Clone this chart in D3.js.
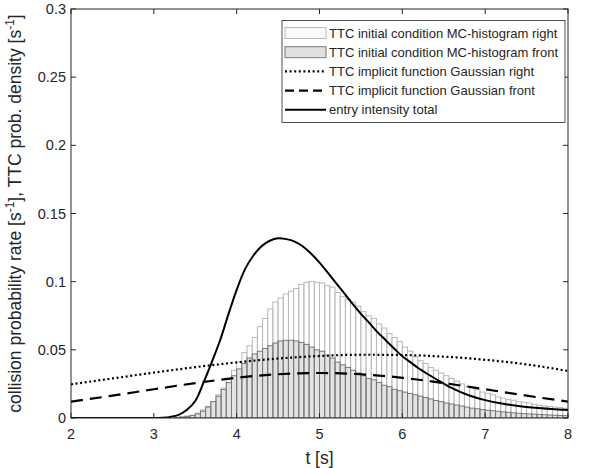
<!DOCTYPE html>
<html>
<head>
<meta charset="utf-8">
<script src="https://cdn.jsdelivr.net/npm/d3@7"></script>
<style>
  body { margin: 0; background: #fff; }
  text { font-family: "Liberation Sans", Arial, sans-serif; fill: #262626; }
</style>
</head>
<body>
<svg id="chart" width="602" height="468"></svg>
<script>
// histogram bins (s)
const binStart = 3.25
const binWidth = 0.0625
// TTC initial condition MC-histogram right
const histRight = [
  0.0005, 0.001, 0.0015, 0.002, 0.0035, 0.006, 0.0085, 0.012, 0.017, 0.022,
  0.028, 0.035, 0.041, 0.048, 0.053, 0.059, 0.067, 0.073, 0.080, 0.085,
  0.088, 0.091, 0.093, 0.095, 0.098, 0.0995, 0.100, 0.0995, 0.099, 0.097,
  0.096, 0.092, 0.089, 0.087, 0.085, 0.082, 0.078, 0.075, 0.073, 0.069,
  0.066, 0.062, 0.059, 0.056, 0.052, 0.049, 0.045, 0.042, 0.040, 0.037,
  0.035, 0.033, 0.031, 0.029, 0.027, 0.025, 0.023, 0.022, 0.021, 0.019,
  0.018, 0.017, 0.0155, 0.0145, 0.0135, 0.013, 0.012, 0.0115, 0.011, 0.010,
  0.0093, 0.0088, 0.0084, 0.008, 0.0076, 0.0071, 0.0066, 0.0063, 0.006, 0.0056
]
// TTC initial condition MC-histogram front
const histFront = [
  0.0003, 0.0006, 0.001, 0.0018, 0.003, 0.005, 0.008, 0.012, 0.016, 0.021,
  0.026, 0.031, 0.036, 0.040, 0.044, 0.047, 0.049, 0.051, 0.053, 0.055,
  0.0565, 0.057, 0.057, 0.0565, 0.0555, 0.054, 0.052, 0.050, 0.049, 0.046,
  0.044, 0.041, 0.039, 0.037, 0.035, 0.033, 0.031, 0.029, 0.028, 0.026,
  0.024, 0.023, 0.021, 0.020, 0.019, 0.018, 0.017, 0.016, 0.015, 0.014,
  0.0128, 0.012, 0.011, 0.0103, 0.0095, 0.0088, 0.008, 0.0072, 0.0068, 0.0062,
  0.0057, 0.0053, 0.0049, 0.0045, 0.0042, 0.0038, 0.0035, 0.0032, 0.003, 0.0028,
  0.0026, 0.0024, 0.0022, 0.002, 0.0019, 0.0017, 0.0016, 0.0015, 0.0014, 0.0013
]
// Gaussian curves
const gaussT = [2, 2.5, 3, 3.5, 4, 4.5, 5, 5.5, 6, 6.5, 7, 7.5, 8]
const gaussRight = [0.0247, 0.0290, 0.0333, 0.0373, 0.0408, 0.0436, 0.0455, 0.0464, 0.0462, 0.0450, 0.0427, 0.0393, 0.0345]
const gaussFront = [0.0120, 0.0164, 0.0211, 0.0256, 0.0295, 0.0321, 0.0330, 0.0321, 0.0295, 0.0256, 0.0211, 0.0164, 0.0120]
// entry intensity total
const entryT = [2, 2.5, 3, 3.1, 3.2, 3.3, 3.4, 3.5, 3.6, 3.7, 3.8, 3.9, 4.0, 4.1, 4.2, 4.3, 4.4, 4.5,
  4.6, 4.7, 4.8, 4.9, 5.0, 5.1, 5.2, 5.3, 5.4, 5.5, 5.6, 5.7, 5.8, 5.9, 6.0, 6.1, 6.2, 6.4, 6.6,
  6.8, 7.0, 7.2, 7.4, 7.6, 7.8, 8.0]
const entryV = [0, 0, 0, 0.0002, 0.0008, 0.0023, 0.006, 0.0125, 0.026, 0.041, 0.057, 0.076, 0.094, 0.109, 0.119, 0.126, 0.130, 0.1318,
  0.1312, 0.1294, 0.1258, 0.1205, 0.114, 0.1066, 0.099, 0.0914, 0.0837, 0.0764, 0.0698, 0.063, 0.057, 0.051, 0.0453, 0.0408, 0.0363, 0.0288, 0.0219,
  0.0167, 0.0131, 0.0106, 0.0088, 0.0075, 0.0066, 0.0059]

const xTicks = [2, 3, 4, 5, 6, 7, 8]
const yTicks = [0, 0.05, 0.1, 0.15, 0.2, 0.25, 0.3]
const legendLabels = [
  "TTC initial condition MC-histogram right",
  "TTC initial condition MC-histogram front",
  "TTC implicit function Gaussian right",
  "TTC implicit function Gaussian front",
  "entry intensity total"
]

const svg = d3.select("#chart")
const pLeft = 71, pRight = 568, pTop = 9, pBottom = 418
const x = d3.scaleLinear().domain([2, 8]).range([pLeft, pRight])
const y = d3.scaleLinear().domain([0, 0.3]).range([pBottom, pTop])
const axisColor = "#262626"

svg.append("defs").append("clipPath").attr("id", "plotclip")
  .append("rect").attr("x", pLeft).attr("y", pTop).attr("width", pRight - pLeft).attr("height", pBottom - pTop)

const plot = svg.append("g").attr("clip-path", "url(#plotclip)")

function drawHist(vals, fill, fillOp, stroke) {
  plot.append("g").selectAll("rect").data(vals).enter().append("rect")
    .attr("x", (d, i) => x(binStart + i * binWidth))
    .attr("width", (d, i) => x(binStart + (i + 1) * binWidth) - x(binStart + i * binWidth))
    .attr("y", d => y(d))
    .attr("height", d => y(0) - y(d))
    .attr("fill", fill).attr("fill-opacity", fillOp)
    .attr("stroke", stroke).attr("stroke-width", 1)
}
drawHist(histRight, "#ffffff", 0.6, "#b8b8b8")
drawHist(histFront, "#cccccc", 0.55, "#777777")

const line = d3.line().x(d => x(d[0])).y(d => y(d[1])).curve(d3.curveMonotoneX)
const smooth = d3.line().x(d => x(d[0])).y(d => y(d[1])).curve(d3.curveCatmullRom.alpha(0.5))

plot.append("path").datum(gaussT.map((t, i) => [t, gaussRight[i]]))
  .attr("d", line).attr("fill", "none").attr("stroke", "#000")
  .attr("stroke-width", 2.2).attr("stroke-dasharray", "2,2.6")
plot.append("path").datum(gaussT.map((t, i) => [t, gaussFront[i]]))
  .attr("d", line).attr("fill", "none").attr("stroke", "#000")
  .attr("stroke-width", 2.2).attr("stroke-dasharray", "12,7")
plot.append("path").datum(entryT.map((t, i) => [t, entryV[i]]))
  .attr("d", smooth).attr("fill", "none").attr("stroke", "#000")
  .attr("stroke-width", 2)

// axes box and ticks
const axes = svg.append("g")
axes.append("rect").attr("x", pLeft).attr("y", pTop).attr("width", pRight - pLeft).attr("height", pBottom - pTop)
  .attr("fill", "none").attr("stroke", axisColor).attr("stroke-width", 1)

const tickLen = 5
xTicks.forEach(t => {
  axes.append("line").attr("x1", x(t)).attr("x2", x(t)).attr("y1", pBottom).attr("y2", pBottom - tickLen).attr("stroke", axisColor)
  axes.append("line").attr("x1", x(t)).attr("x2", x(t)).attr("y1", pTop).attr("y2", pTop + tickLen).attr("stroke", axisColor)
  axes.append("text").attr("x", x(t)).attr("y", pBottom + 21).attr("text-anchor", "middle")
    .attr("font-size", 14.5).text(String(t))
})
yTicks.forEach(v => {
  axes.append("line").attr("x1", pLeft).attr("x2", pLeft + tickLen).attr("y1", y(v)).attr("y2", y(v)).attr("stroke", axisColor)
  axes.append("line").attr("x1", pRight).attr("x2", pRight - tickLen).attr("y1", y(v)).attr("y2", y(v)).attr("stroke", axisColor)
  axes.append("text").attr("x", pLeft - 5).attr("y", y(v) + 5).attr("text-anchor", "end")
    .attr("font-size", 14.5).text(String(v))
})

// axis labels
svg.append("text").attr("x", (pLeft + pRight) / 2).attr("y", 464).attr("text-anchor", "middle")
  .attr("font-size", 17.5).text("t [s]")

const yl = svg.append("text").attr("transform", `translate(21, ${(pTop + pBottom) / 2}) rotate(-90)`)
  .attr("text-anchor", "middle").attr("font-size", 17.5)
yl.append("tspan").text("collision probability rate [s")
yl.append("tspan").attr("baseline-shift", "super").attr("font-size", 12).text("-1")
yl.append("tspan").text("], TTC prob. density [s")
yl.append("tspan").attr("baseline-shift", "super").attr("font-size", 12).text("-1")
yl.append("tspan").text("]")

// legend
const lg = svg.append("g")
const lgX = 282, lgY = 20.5, lgW = 283, lgH = 102
lg.append("rect").attr("x", lgX).attr("y", lgY).attr("width", lgW).attr("height", lgH)
  .attr("fill", "#fff").attr("stroke", axisColor).attr("stroke-width", 0.8)
const rowY = i => 33 + i * 19.2
const sx0 = 285, sx1 = 326
lg.append("rect").attr("x", sx0).attr("y", rowY(0) - 5.5).attr("width", sx1 - sx0).attr("height", 11)
  .attr("fill", "#fafafa").attr("stroke", "#b8b8b8")
lg.append("rect").attr("x", sx0).attr("y", rowY(1) - 5.5).attr("width", sx1 - sx0).attr("height", 11)
  .attr("fill", "#e0e0e0").attr("stroke", "#777777")
lg.append("line").attr("x1", sx0).attr("x2", sx1).attr("y1", rowY(2)).attr("y2", rowY(2))
  .attr("stroke", "#000").attr("stroke-width", 2.2).attr("stroke-dasharray", "2,2.6")
lg.append("line").attr("x1", sx0).attr("x2", sx1).attr("y1", rowY(3)).attr("y2", rowY(3))
  .attr("stroke", "#000").attr("stroke-width", 2.2).attr("stroke-dasharray", "9,5")
lg.append("line").attr("x1", sx0).attr("x2", sx1).attr("y1", rowY(4)).attr("y2", rowY(4))
  .attr("stroke", "#000").attr("stroke-width", 2)
legendLabels.forEach((s, i) => {
  lg.append("text").attr("x", 329).attr("y", rowY(i) + 4.6).attr("font-size", 13).attr("fill", "#000").text(s)
})
</script>
</body>
</html>
